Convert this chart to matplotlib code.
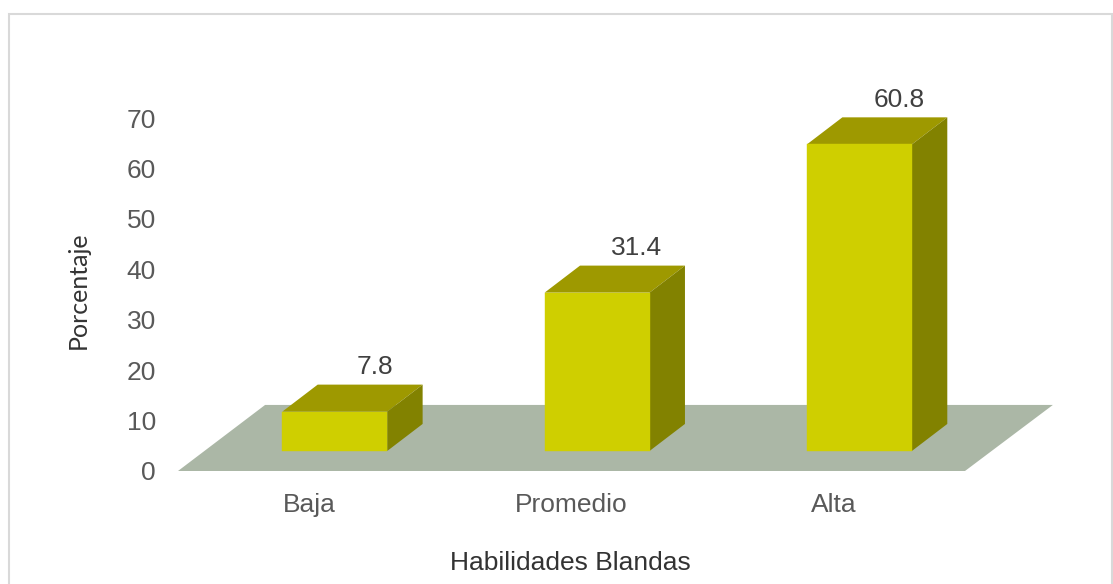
import matplotlib
matplotlib.use("Agg")
import matplotlib.pyplot as plt
from matplotlib.patches import Rectangle

categories = ["Baja", "Promedio", "Alta"]
values = [7.8, 31.4, 60.8]
yticks = [0, 10, 20, 30, 40, 50, 60, 70]

W, H = 1113, 584
plt.rcParams["font.family"] = ["Liberation Sans", "DejaVu Sans"]

fig = plt.figure(figsize=(W / 100, H / 100), dpi=100)
fig.add_artist(Rectangle((9 / W, -0.01), (1112 - 9) / W, (584 - 14) / H + 0.01, transform=fig.transFigure,
                         fc="white", ec="#d9d9d9", lw=1.5, zorder=-1))
ax = fig.add_axes([178 / W, 1 - 471 / H, 787 / W, 353 / H])
ax.patch.set_alpha(0)
ax.set_xlim(-0.5, 2.5)
ax.set_ylim(0, 70)

# depth of the fake 3d, in data units
dx = 0.135
dy = 5.36
base = 3.97
width = 0.4
shift = 0.0975  # bars sit right of the tick centres

# floor
ax.fill([-0.5, 2.5, 2.5 + 0.335, -0.5 + 0.332], [0, 0, 13.1, 13.1], color="#abb7a6", clip_on=False, lw=0)

x = list(range(len(categories)))
bar_x = [i + shift for i in x]
ax.bar(bar_x, values, width=width, bottom=base, color="#cfcf00", edgecolor="#cfcf00", lw=0.3, zorder=4)
for i, v in zip(bar_x, values):
    l = i - width / 2
    r = i + width / 2
    t = base + v
    ax.fill([l, r, r + dx, l + dx], [t, t, t + dy, t + dy], color="#9e9900", lw=0, zorder=3, clip_on=False)
    ax.fill([r, r + dx, r + dx, r], [base, base + dy, t + dy, t], color="#828200", lw=0, zorder=3, clip_on=False)
    ax.text(i + 0.152, t + dy + 1.1, str(v), ha="center", va="bottom", fontsize=19, color="#404040")

for s in ax.spines.values():
    s.set_visible(False)
ax.set_xticks(x, categories)
ax.set_yticks(yticks)
ax.tick_params(axis="both", length=0, labelsize=19, labelcolor="#595959")
ax.tick_params(axis="x", pad=16)
ax.tick_params(axis="y", pad=16)
fig.text(570 / W, 1 - 563 / H, "Habilidades Blandas", ha="center", va="center", fontsize=19, color="#333333")
fig.text(78 / W, 1 - 290 / H, "Porcentaje", rotation=90, ha="center", va="center", fontsize=18, color="#333333", family="Lato")

fig.savefig("out.png", dpi=100)
